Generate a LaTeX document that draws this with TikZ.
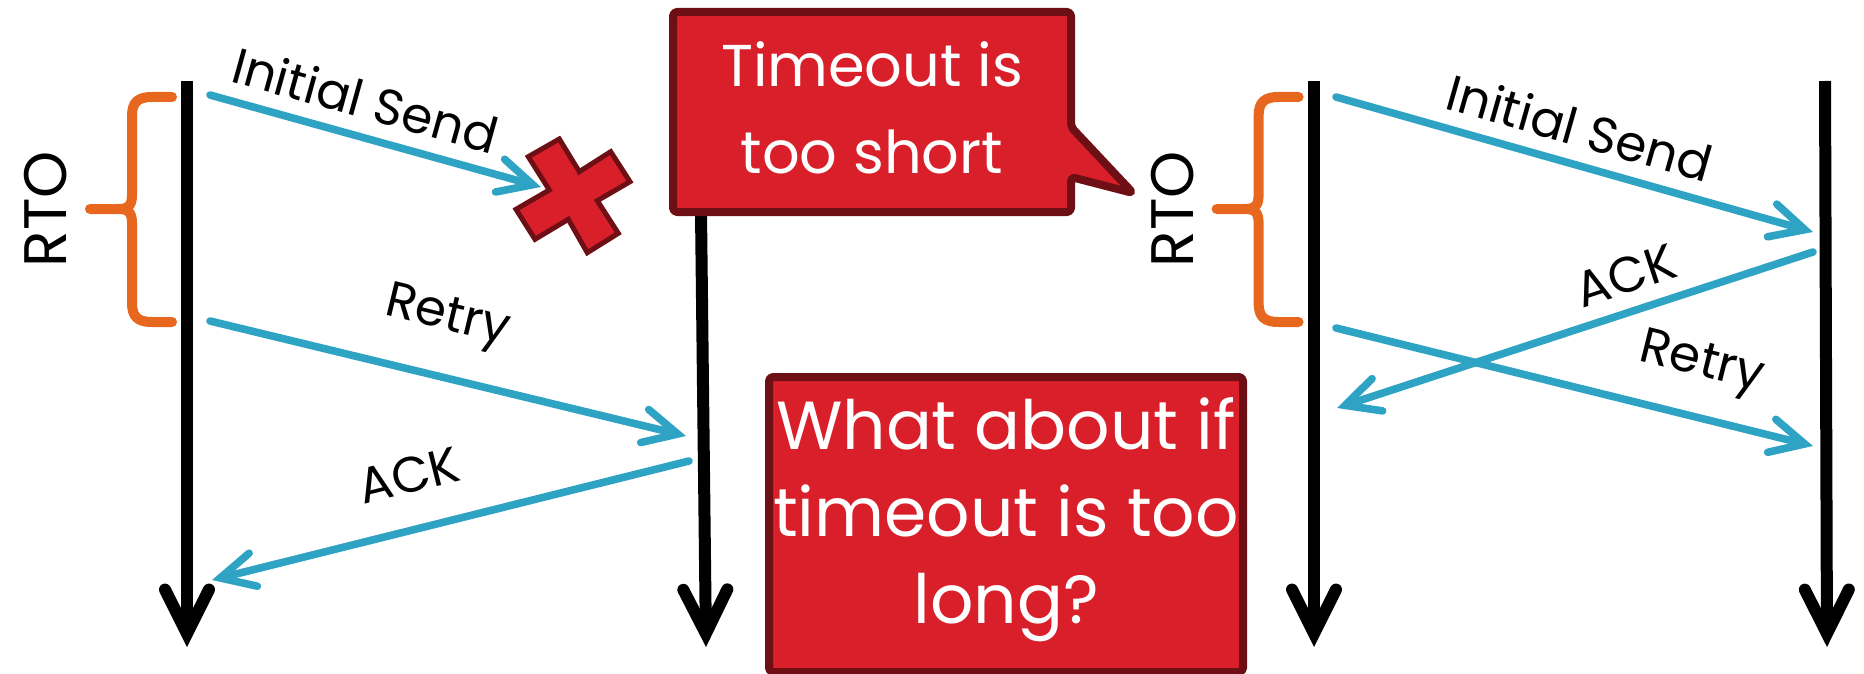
\documentclass[tikz,border=0pt]{standalone}
\usepackage{fontspec}
\setmainfont{Poppins}
\usetikzlibrary{arrows.meta}
\definecolor{msgblue}{HTML}{2EA3C3}
\definecolor{braceorange}{HTML}{E8671E}
\definecolor{boxred}{HTML}{D91F2A}
\definecolor{boxdark}{HTML}{6D0F14}
\tikzset{
  timeline/.style={line width=6pt, line cap=butt,
    -{Straight Barb[length=22pt,width=22pt,line cap=round,line join=miter]}},
  msg/.style={draw=msgblue, line width=3.8pt, line cap=round,
    -{Straight Barb[length=17pt,width=17pt,line cap=round,line join=miter]}},
  msglabel/.style={font=\fontsize{25}{30}\selectfont, inner sep=0pt, sloped, above=7pt, text=black},
  bracestyle/.style={draw=braceorange, line width=5pt, line cap=round, line join=round},
  rtolabel/.style={font=\fontsize{30}{36}\selectfont, inner sep=0pt, rotate=90},
  redbox/.style={fill=boxred, draw=boxdark, line width=4pt, rounded corners=2pt, line join=round},
  boxtext/.style={text=white, align=center, inner sep=0pt},
  pics/rtobrace/.style={code={
    \draw[bracestyle] (172,97) -- (152,97) .. controls (138,97) and (132,102) .. (132,116)
      -- (132,195) .. controls (132,206) and (128,209) .. (118,209) -- (90,209);
    \draw[bracestyle] (172,322) -- (152,322) .. controls (138,322) and (132,317) .. (132,303)
      -- (132,223) .. controls (132,212) and (128,209) .. (118,209);
    \node[rtolabel] (-lbl) at (46,209) {RTO};
  }}
}
\begin{document}
\begin{tikzpicture}[x=0.5pt,y=-0.5pt]
\useasboundingbox (0,0) rectangle (1864,674);

% braces and RTO labels
\pic (lb) at (0,0) {rtobrace};
\pic (rb) at (1126.6,0) {rtobrace};

% timelines
\coordinate (A0) at (187,81);   \coordinate (A1) at (187,647);
\coordinate (B0) at (701,212);  \coordinate (B1) at (706,647);
\coordinate (C0) at (1314,81);  \coordinate (C1) at (1314,647);
\coordinate (D0) at (1825,81);  \coordinate (D1) at (1827,647);
\draw[timeline] (A0) -- (A1);
\draw[timeline] (B0) -- (B1);
\draw[timeline] (C0) -- (C1);
\draw[timeline] (D0) -- (D1);

% left messages
\coordinate (s1s) at (210,95);   \coordinate (s1e) at (541,187);
\coordinate (r1s) at (210,321);  \coordinate (r1e) at (686,436);
\coordinate (k1s) at (689,461);  \coordinate (k1e) at (212,580);
\draw[msg] (s1s) -- node[msglabel, pos=0.44] (s1l) {Initial Send} (s1e);
\draw[msg] (r1s) -- node[msglabel, pos=0.47, above=8pt] (r1l) {Retry} (r1e);
\draw[msg] (k1s) -- node[msglabel, pos=0.56, above=9pt] (k1l) {ACK} (k1e);

% right messages
\coordinate (s2s) at (1336,97);  \coordinate (s2e) at (1813,232);
\coordinate (k2s) at (1813,252); \coordinate (k2e) at (1337,408);
\coordinate (r2s) at (1336,328); \coordinate (r2e) at (1813,446);
\draw[msg] (s2s) -- node[msglabel, pos=0.49] (s2l) {Initial Send} (s2e);
\draw[msg] (k2s) -- node[msglabel, pos=0.37] (k2l) {ACK} (k2e);
\draw[msg] (r2s) -- node[msglabel, pos=0.74, above=5pt] (r2l) {Retry} (r2e);

% red cross (lost packet)
\fill[boxred, draw=boxdark, line width=2.5pt, line join=miter]
  (528.3,156.7) -- (559.3,139) -- (579.3,171.7) -- (610.7,151.7) -- (630,181.7)
  -- (597.3,200.7) -- (618.3,233.3) -- (587.3,252.7) -- (568.3,219.3)
  -- (535,239.3) -- (516,209.3) -- (549.3,190) -- cycle;

% callout "Timeout is too short"
\path[redbox] (673,12) -- (1071,12) -- (1071,127) -- (1133,193) -- (1071,177)
  -- (1071,212) -- (673,212) -- cycle;
\node[boxtext, font=\fontsize{29.5}{43.5}\selectfont] (short) at (872,108)
  {Timeout is\\too short};

% box "What about if timeout is too long?"
\path[redbox] (769,377) rectangle (1243,672);
\node[boxtext, font=\fontsize{34}{43.5}\selectfont] (long) at (1006,520)
  {What about if\\timeout is too\\long?};
\end{tikzpicture}
\end{document}
